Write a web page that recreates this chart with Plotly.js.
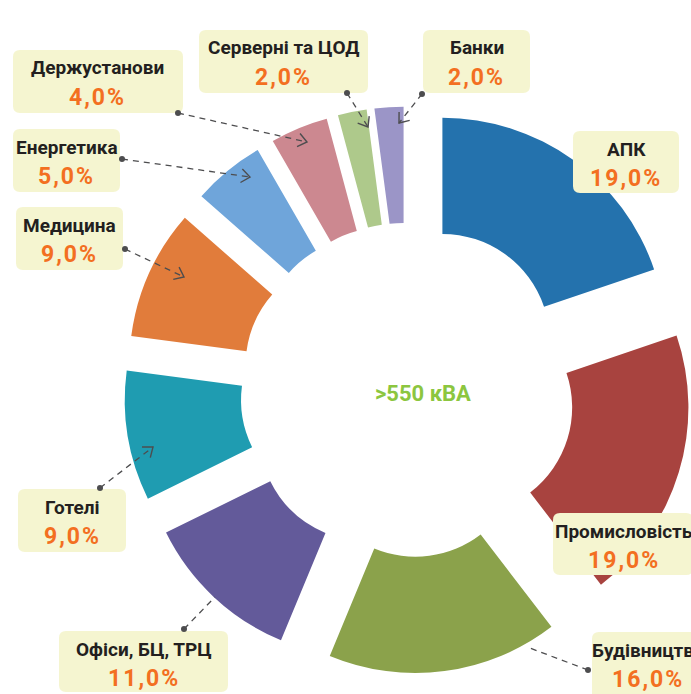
<!DOCTYPE html>
<html><head><meta charset="utf-8">
<script src="https://cdn.plot.ly/plotly-3.0.1.min.js"></script>
<style>html,body{margin:0;padding:0;background:#fff;overflow:hidden}</style>
</head><body><div id="chart" style="width:691px;height:694px"></div>
<script>
// ---- data ----
const categories = ['АПК','Промисловість','Будівництво','Офіси, БЦ, ТРЦ','Готелі','Медицина','Енергетика','Держустанови','Серверні та ЦОД','Банки'];
const shares = [19,19,16,11,9,9,5,4,2,2];
const sliceColors = ['#2472ad','#a8433f','#8ba24b','#635a9a','#1f9cb1','#e17c3b','#6fa5da','#cc8890','#aec98b','#9b95c7'];
const centerLabel = '>550 кВА';
const percentLabels = shares.map(v => v.toFixed(1).replace('.', ',') + '%');

// ---- layout helpers (pixel placement of callouts) ----
const W = 691, H = 694;
const px = x => x / W, py = y => 1 - y / H;
const placements = [
  {box:[573,131,679,193]},
  {box:[553,513,693,575], cx:624},
  {box:[592,632,702,700], cx:648, dot:[588,670], tip:[527,647], arrow:false},
  {box:[59,631,228,692], dot:[184,629], tip:[215,597], arrow:false},
  {box:[18,489,126,552], dot:[100,488], tip:[153,447], arrow:true},
  {box:[16,207,123,270], dot:[125,249], tip:[184,277], arrow:true},
  {box:[13,129,120,192], dot:[122,159], tip:[250,177], arrow:true},
  {box:[13,50,183,113], dot:[178,113], tip:[307,142], arrow:true},
  {box:[199,30,368,93], dot:[347,93], tip:[368,127], arrow:true},
  {box:[423,30,530,93], dot:[422,94], tip:[399,123], arrow:true}
];

const shapes = [], annotations = [];
const FONT = 'Roboto, "Liberation Sans", Arial, sans-serif';
const boxFill = '#f5f5d0', leadColor = '#4d4d4f';

function roundRect(x0,y0,x1,y1,r){
  const P = (x,y) => px(x) + ',' + py(y);
  return 'M' + P(x0+r,y0) + ' L' + P(x1-r,y0) + ' Q' + P(x1,y0) + ' ' + P(x1,y0+r) +
    ' L' + P(x1,y1-r) + ' Q' + P(x1,y1) + ' ' + P(x1-r,y1) +
    ' L' + P(x0+r,y1) + ' Q' + P(x0,y1) + ' ' + P(x0,y1-r) +
    ' L' + P(x0,y0+r) + ' Q' + P(x0,y0) + ' ' + P(x0+r,y0) + ' Z';
}

categories.forEach((name, i) => {
  const p = placements[i];
  const [x0,y0,x1,y1] = p.box;
  shapes.push({type:'path', xref:'paper', yref:'paper', path:roundRect(x0,y0,x1,y1,7),
    fillcolor:boxFill, line:{width:0}, layer:'above'});
  const cx = p.cx !== undefined ? p.cx : (x0 + x1) / 2;
  annotations.push({xref:'paper', yref:'paper', x:px(cx), y:py(y0+18), xanchor:'center', yanchor:'middle',
    text:name, showarrow:false, font:{family:FONT, size:19, color:'#231f20', weight:'bold'}});
  annotations.push({xref:'paper', yref:'paper', x:px(cx), y:py(y0+47), xanchor:'center', yanchor:'middle',
    text:"<span style='letter-spacing:2px'>" + percentLabels[i] + "</span>", showarrow:false,
    font:{family:FONT, size:23, color:'#f36f21', weight:'bold'}});
  if (p.dot) {
    const [dx,dy] = p.dot, [tx,ty] = p.tip;
    shapes.push({type:'line', xref:'paper', yref:'paper', x0:px(dx), y0:py(dy), x1:px(tx), y1:py(ty),
      line:{color:leadColor, width:1.3, dash:'6px,5px'}, layer:'above'});
    shapes.push({type:'circle', xref:'paper', yref:'paper', x0:px(dx-3), y0:py(dy-3), x1:px(dx+3), y1:py(dy+3),
      fillcolor:leadColor, line:{width:0}, layer:'above'});
    if (p.arrow) {
      const L = Math.hypot(tx-dx, ty-dy), ux = (tx-dx)/L, uy = (ty-dy)/L, a = 38*Math.PI/180, len = 11;
      const arm = s => [tx - len*(ux*Math.cos(a) - s*uy*Math.sin(a)), ty - len*(uy*Math.cos(a) + s*ux*Math.sin(a))];
      const A = arm(1), B = arm(-1);
      shapes.push({type:'path', xref:'paper', yref:'paper',
        path:'M' + px(A[0]) + ',' + py(A[1]) + ' L' + px(tx) + ',' + py(ty) + ' L' + px(B[0]) + ',' + py(B[1]),
        line:{color:leadColor, width:1.4}, layer:'above'});
    }
  }
});

annotations.push({xref:'paper', yref:'paper', x:px(423), y:py(393), xanchor:'center', yanchor:'middle',
  text:centerLabel, showarrow:false, font:{family:FONT, size:22, color:'#8cc63f', weight:'bold'}});

const trace = {
  type:'pie', labels:categories, values:shares, sort:false, direction:'clockwise', rotation:0,
  hole:0.48, pull:shares.map(() => 0.268), marker:{colors:sliceColors, line:{width:0}},
  textinfo:'none', hoverinfo:'none',
  domain:{x:[124/W, 1], y:[20.5/H, 587.5/H]}
};

Plotly.newPlot('chart', [trace], {
  width:W, height:H, margin:{l:0,r:0,t:0,b:0}, showlegend:false,
  paper_bgcolor:'#ffffff', plot_bgcolor:'#ffffff',
  shapes:shapes, annotations:annotations
}, {staticPlot:true});
</script>
</body></html>
